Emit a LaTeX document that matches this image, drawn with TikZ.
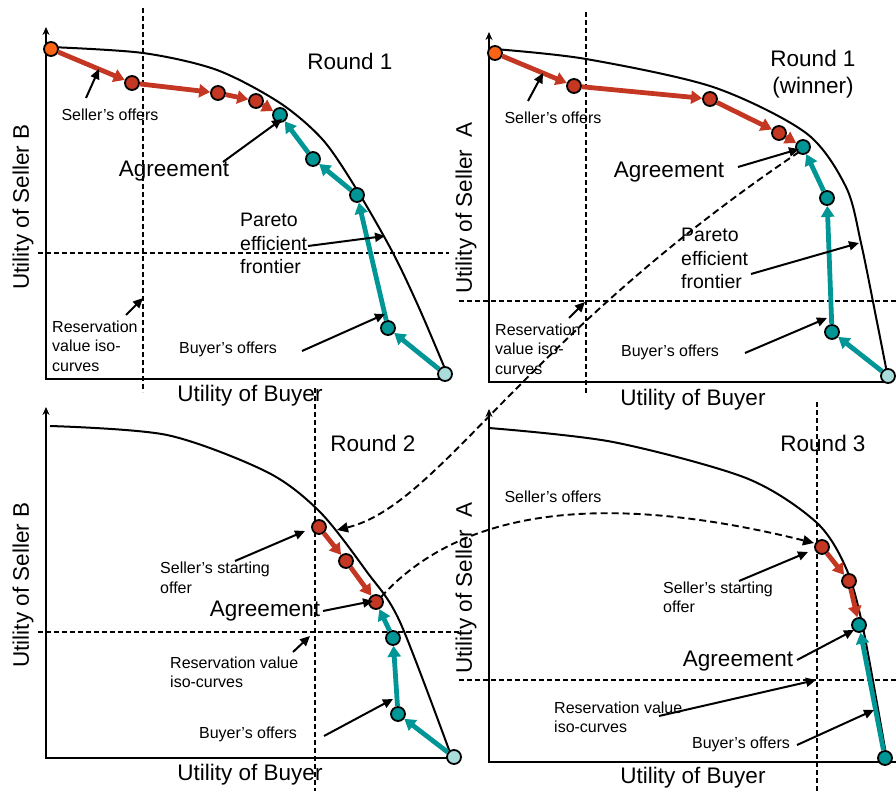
\documentclass[tikz,border=0pt]{standalone}
\usepackage{fontspec}
\setmainfont{Liberation Sans}
\usepackage{tikz}
\usetikzlibrary{arrows.meta,positioning,calc}
\definecolor{sellred}{RGB}{195,55,35}
\definecolor{startorange}{RGB}{250,100,20}
\definecolor{buyteal}{RGB}{0,150,150}
\definecolor{buylight}{RGB}{170,220,220}
\tikzset{
  big/.style={font=\fontsize{22.5}{27}\selectfont, inner sep=0pt, align=center},
  mid/.style={font=\fontsize{19.5}{23.5}\selectfont, inner sep=0pt, align=left, anchor=west},
  small/.style={font=\fontsize{16}{19.5}\selectfont, inner sep=0pt, align=left},
  offer/.style={circle, draw, line width=1.8pt, minimum size=14pt, inner sep=0pt},
  sellmove/.style={draw=sellred, line width=4.8pt, -{Triangle[width=13pt,length=11pt]}},
  buymove/.style={draw=buyteal, line width=4.8pt, -{Triangle[width=13pt,length=11pt]}},
  note/.style={line width=2pt, -{Triangle[width=9pt,length=10pt]}},
  iso/.style={line width=1.8pt, dash pattern=on 5pt off 3pt},
  link/.style={line width=1.9pt, dash pattern=on 7pt off 4pt, -{Triangle[width=10pt,length=11pt]}},
  front/.style={line width=2pt},
  axis/.style={line width=2pt, {Stealth[width=7pt,length=8pt]}-}
}
\begin{document}
\begin{tikzpicture}[x=1pt, y=-1pt]
    \useasboundingbox (0,0) rectangle (896,791);

    % Round 1, seller B
    \draw[iso] (143,8) -- (143,392);
    \draw[iso] (38,253) -- (449,253);
    \draw[front] plot[smooth] coordinates {(50,47) (143,53) (217,70) (280,103) (323,140) (357,190) (393,253) (420,310) (448,376)};
    \draw[axis] (46,27) -- (46,379) -- (449,379);
    \node[offer, fill=startorange] (s10) at (51,49) {};
    \node[offer, fill=sellred] (s11) at (132,83) {};
    \node[offer, fill=sellred] (s12) at (218,93) {};
    \node[offer, fill=sellred] (s13) at (256,101) {};
    \node[offer, fill=buyteal] (a1) at (280,115) {};
    \node[offer, fill=buyteal] (b11) at (313,159) {};
    \node[offer, fill=buyteal] (b12) at (357,195) {};
    \node[offer, fill=buyteal] (b13) at (388,328) {};
    \node[offer, fill=buylight] (b10) at (445,374) {};
    \draw[sellmove] (s10) -- (s11);
    \draw[sellmove] (s11) -- (s12);
    \draw[sellmove] (s12) -- (s13);
    \draw[sellmove] (s13) -- (a1);
    \draw[buymove] (b10) -- (b13);
    \draw[buymove] (b13) -- (b12);
    \draw[buymove] (b12) -- (b11);
    \draw[buymove] (b11) -- (a1);
    \node[big] (round1) at (350,61) {Round 1};
    \node[small] (sell1) at (110,115) {Seller's offers};
    \node[big] (agree1) at (174,171) {Agreement};
    \node[mid] (pareto1) at (240,243.5) {Pareto\\efficient\\frontier};
    \node[small, anchor=west] (res1) at (52,346) {Reservation\\value iso-\\curves};
    \node[small] (buy1) at (228,349) {Buyer's offers};
    \node[big, rotate=90] (ylab1) at (23,207) {Utility of Seller B};
    \node[big] (xlab1) at (250,396) {Utility of Buyer};
    \coordinate (t11) at (86,98);   \coordinate (h11) at (99,69);
    \coordinate (t12) at (223,162); \coordinate (h12) at (282,119);
    \coordinate (t13) at (308,246); \coordinate (h13) at (385,236);
    \coordinate (t14) at (126,315); \coordinate (h14) at (143,298);
    \coordinate (t15) at (302,351); \coordinate (h15) at (385,314);
    \draw[note] (t11) -- (h11);
    \draw[note] (t12) -- (h12);
    \draw[note] (t13) -- (h13);
    \draw[note] (t14) -- (h14);
    \draw[note] (t15) -- (h15);

    % Round 1, seller A (winner)
    \draw[iso] (586,12) -- (586,395);
    \draw[iso] (459,301) -- (896,301);
    \draw[front] plot[smooth] coordinates {(494,49) (586,59) (713,87) (806,133) (846,187) (861,243) (876,317) (888,378)};
    \draw[axis] (489,32) -- (489,382) -- (892,382);
    \node[offer, fill=startorange] (s20) at (495,53) {};
    \node[offer, fill=sellred] (s21) at (574,86) {};
    \node[offer, fill=sellred] (s22) at (710,99) {};
    \node[offer, fill=sellred] (s23) at (779,133) {};
    \node[offer, fill=buyteal] (a2) at (803,147) {};
    \node[offer, fill=buyteal] (b21) at (827,198) {};
    \node[offer, fill=buyteal] (b22) at (832,332) {};
    \node[offer, fill=buylight] (b20) at (888,376) {};
    \draw[sellmove] (s20) -- (s21);
    \draw[sellmove] (s21) -- (s22);
    \draw[sellmove] (s22) -- (s23);
    \draw[sellmove] (s23) -- (a2);
    \draw[buymove] (b20) -- (b22);
    \draw[buymove] (b22) -- (b21);
    \draw[buymove] (b21) -- (a2);
    \node[big] (round1w) at (813,74.5) {Round 1\\(winner)};
    \node[small] (sell2) at (553,118) {Seller's offers};
    \node[big] (agree2) at (669,172) {Agreement};
    \node[mid] (pareto2) at (681,258.7) {Pareto\\efficient\\frontier};
    \node[small, anchor=west] (res2) at (495,349) {Reservation\\value iso-\\curves};
    \node[small] (buy2) at (670,352) {Buyer's offers};
    \node[big, rotate=90] (ylab2) at (466,208) {Utility of Seller~~A};
    \node[big] (xlab2) at (693,400) {Utility of Buyer};
    \coordinate (t21) at (528,101); \coordinate (h21) at (543,73);
    \coordinate (t22) at (738,167); \coordinate (h22) at (799,149);
    \coordinate (t23) at (751,274); \coordinate (h23) at (859,243);
    \coordinate (t24) at (569,318); \coordinate (h24) at (585,302);
    \coordinate (t25) at (745,353); \coordinate (h25) at (827,318);
    \draw[note] (t21) -- (h21);
    \draw[note] (t22) -- (h22);
    \draw[note] (t23) -- (h23);
    \draw[note] (t24) -- (h24);
    \draw[note] (t25) -- (h25);

    % Round 2, seller B
    \draw[iso] (315,388) -- (315,791);
    \draw[iso] (38,632) -- (462,632);
    \draw[front] plot[smooth] coordinates {(50,426) (167,435) (267,472) (320,512) (367,572) (400,622) (452,758)};
    \draw[axis] (46,407) -- (46,758) -- (455,758);
    \node[offer, fill=sellred] (s30) at (319,527) {};
    \node[offer, fill=sellred] (s31) at (346,561) {};
    \node[offer, fill=sellred] (a3) at (376,602) {};
    \node[offer, fill=buyteal] (b31) at (393,638) {};
    \node[offer, fill=buyteal] (b32) at (398,714) {};
    \node[offer, fill=buylight] (b30) at (454,757) {};
    \draw[sellmove] (s30) -- (s31);
    \draw[sellmove] (s31) -- (a3);
    \draw[buymove] (b30) -- (b32);
    \draw[buymove] (b32) -- (b31);
    \draw[buymove] (b31) -- (a3);
    \node[big] (round2) at (373,443) {Round 2};
    \node[small, anchor=west] (start3) at (160,578) {Seller's starting\\offer};
    \node[big] (agree3) at (265,611) {Agreement};
    \node[small, anchor=west] (res3) at (170,672.5) {Reservation value\\iso-curves};
    \node[small] (buy3) at (248,734) {Buyer's offers};
    \node[big, rotate=90] (ylab3) at (23,585) {Utility of Seller B};
    \node[big] (xlab3) at (250,775) {Utility of Buyer};
    \coordinate (t31) at (235,561); \coordinate (h31) at (305,531);
    \coordinate (t32) at (323,611); \coordinate (h32) at (373,601);
    \coordinate (t33) at (293,652); \coordinate (h33) at (310,636);
    \coordinate (t34) at (324,736); \coordinate (h34) at (393,699);
    \draw[note] (t31) -- (h31);
    \draw[note] (t32) -- (h32);
    \draw[note] (t33) -- (h33);
    \draw[note] (t34) -- (h34);

    % Round 3, seller A
    \draw[iso] (817,402) -- (817,791);
    \draw[iso] (459,680) -- (896,680);
    \draw[front] plot[smooth] coordinates {(489,428) (613,442) (746,478) (816,522) (846,568) (863,628) (887,760)};
    \draw[axis] (489,409) -- (489,762) -- (896,762);
    \node[offer, fill=sellred] (s40) at (822,547) {};
    \node[offer, fill=sellred] (s41) at (849,581) {};
    \node[offer, fill=buyteal] (a4) at (859,625) {};
    \node[offer, fill=buyteal] (b40) at (885,758) {};
    \draw[sellmove] (s40) -- (s41);
    \draw[sellmove] (s41) -- (a4);
    \draw[buymove] (b40) -- (a4);
    \node[big] (round3) at (823,443) {Round 3};
    \node[small] (sell4) at (553,497) {Seller's offers};
    \node[small, anchor=west] (start4) at (663,597.5) {Seller's starting\\offer};
    \node[big] (agree4) at (738,661) {Agreement};
    \node[small, anchor=west] (res4) at (554,717.5) {Reservation value\\iso-curves};
    \node[small] (buy4) at (741,744) {Buyer's offers};
    \node[big, rotate=90] (ylab4) at (466,588) {Utility of Seller~~A};
    \node[big] (xlab4) at (693,778) {Utility of Buyer};
    \coordinate (t41) at (739,581); \coordinate (h41) at (808,552);
    \coordinate (t42) at (797,660); \coordinate (h42) at (854,630);
    \coordinate (t43) at (659,716); \coordinate (h43) at (816,680);
    \coordinate (t44) at (797,745); \coordinate (h44) at (874,710);
    \draw[note] (t41) -- (h41);
    \draw[note] (t42) -- (h42);
    \draw[note] (t43) -- (h43);
    \draw[note] (t44) -- (h44);

    % links between rounds
    \coordinate (l1) at (799,152); \coordinate (l1e) at (337,530);
    \coordinate (l2) at (381,597); \coordinate (l2e) at (814,543);
    \draw[link] (l1) .. controls (520,340) and (440,505) .. (l1e);
    \draw[link] (l2) .. controls (460,510) and (600,490) .. (l2e);
\end{tikzpicture}
\end{document}
